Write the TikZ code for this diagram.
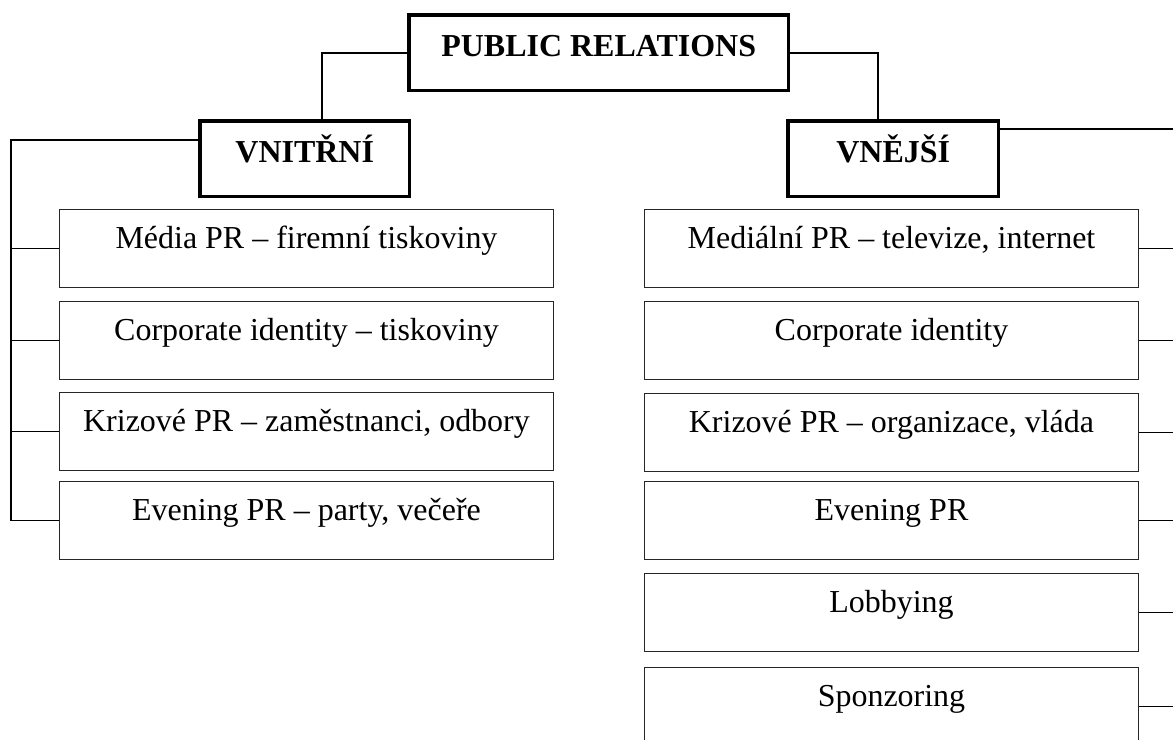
\documentclass[tikz,border=0pt]{standalone}
\usepackage{fontspec}
\setmainfont{Liberation Serif}
\begin{document}
\begin{tikzpicture}[x=.02cm,y=-.02cm,font=\fontsize{18.2}{22}\selectfont,
	item/.style={draw=black!85,line width=.6pt,inner sep=0pt,anchor=north west,
		minimum width=9.88cm,text height=.78cm,text depth=.78cm},
	head/.style={draw,line width=2pt,inner sep=0pt,anchor=north west,
		font=\fontsize{18.2}{22}\selectfont\bfseries,text height=.84cm,text depth=.68cm},
	link/.style={line width=.9pt}]
	\useasboundingbox (0,0) rectangle (1173,740);
	\node[head,minimum width=7.6cm] (pr) at (407,13) {PUBLIC RELATIONS};
	\node[head,minimum width=4.2cm] (vni) at (198,119) {VNITŘNÍ};
	\node[head,minimum width=4.22cm] (vne) at (786,119) {VNĚJŠÍ};
	\path (11,138)coordinate(sl) (1185,127)coordinate(sr);
	\node[item] (l1) at (59,209) {Média PR – firemní tiskoviny};
	\node[item] (l2) at (59,301) {Corporate identity – tiskoviny};
	\node[item] (l3) at (59,392) {Krizové PR – zaměstnanci, odbory};
	\node[item] (l4) at (59,481) {Evening PR – party, večeře};
	\node[item] (r1) at (644,209) {Mediální PR – televize, internet};
	\node[item] (r2) at (644,301) {Corporate identity};
	\node[item] (r3) at (644,393) {Krizové PR – organizace, vláda};
	\node[item] (r4) at (644,481) {Evening PR};
	\node[item] (r5) at (644,573) {Lobbying};
	\node[item] (r6) at (644,667) {Sponzoring};
	\draw[link] (pr.west) -| ([xshift=.34cm]vni.north);
	\draw[link] (pr.east) -| ([xshift=-.31cm]vne.north);
	\draw[link] ([yshift=.38cm]vni.west) -| (l4.west -| sl) -- (l4.west);
	\draw[link] ([yshift=.6cm]vne.east) -| (r6.east -| sr) -- (r6.east);
	\foreach \i in {1,2,3}\draw[link] (l\i.west) -- (l\i.west -| sl);
	\foreach \i in {1,...,5}\draw[link] (r\i.east) -- (r\i.east -| sr);
\end{tikzpicture}
\end{document}
